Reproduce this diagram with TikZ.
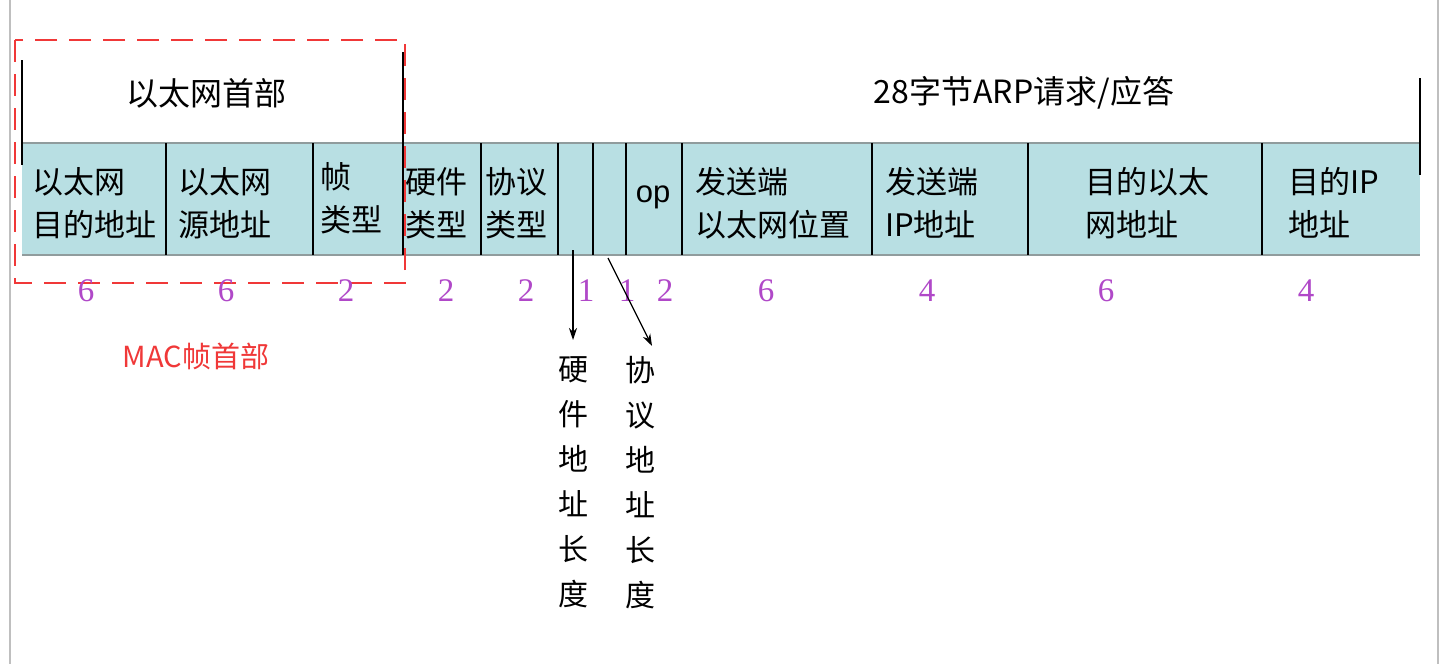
\documentclass[tikz,border=0pt]{standalone}
\usepackage{fontspec}
\setmainfont{Liberation Sans}
\newfontfamily\cjk{Noto Sans CJK SC}
\newfontfamily\numf{Liberation Serif}
\usetikzlibrary{arrows.meta}
\begin{document}
\begin{tikzpicture}[x=1pt,y=-1pt,
  cell/.style={draw=none,fill=band,anchor=north west,inner sep=0pt,minimum height=112pt},
  lab/.style={anchor=west,align=left,inner sep=0pt,font=\cjk\fontsize{31}{43}\selectfont},
  num/.style={font=\numf\fontsize{33}{33}\selectfont,text=numc,inner sep=0pt},
  vt/.style={align=center,inner sep=0pt,font=\cjk\fontsize{30}{45}\selectfont},
  arr/.style={-{Stealth[length=12pt,width=8pt]},line width=1.2pt}]
\definecolor{band}{HTML}{B8DFE3}
\definecolor{numc}{HTML}{B048C8}
\definecolor{redc}{HTML}{F03838}
\useasboundingbox (0,0) rectangle (1441,664);
\fill[white] (0,0) rectangle (1441,664);
\draw[gray!50,line width=2pt] (10,0) -- (10,664);
\draw[gray!50,line width=2pt] (1438,0) -- (1438,664);
% cells
\foreach \n/\a/\b in {c1/22/166,c2/166/313,c3/313/403,c4/403/481,c5/481/558,c6/558/593,c7/593/626,c8/626/682,c9/682/872,c10/872/1028,c11/1028/1262,c12/1262/1420}{
  \pgfmathsetmacro\w{\b-\a}
  \node[cell,minimum width=\w pt] (\n) at (\a,143) {};
}
\draw[gray!70!band,line width=1.5pt] (22,143) -- (1420,143) (22,255) -- (1420,255);
\foreach \x in {166,313,481,558,593,626,682,872,1028,1262}
  \draw[line width=1.2pt] (\x,143) -- (\x,255);
\draw[line width=1.2pt] (22,60) -- (22,165);
\draw[line width=1.2pt] (403,52) -- (403,255);
\draw[line width=1.2pt] (1420,78) -- (1420,175);
\node[font=\cjk\fontsize{32}{32}\selectfont] (t1) at (206,93) {以太网首部};
\node[font=\cjk\fontsize{32}{32}\selectfont] (t2) at (1024,93) {28字节ARP请求/应答};
\node[lab] at (32,203) {以太网\\目的地址};
\node[lab] at (178,203) {以太网\\源地址};
\node[lab] at (320,198) {帧\\类型};
\node[lab] at (405,203) {硬件\\类型};
\node[lab] at (485,203) {协议\\类型};
\node[font=\fontsize{31}{31}\selectfont] at (653,197) {op};
\node[lab] at (695,203) {发送端\\以太网位置};
\node[lab] at (885,203) {发送端\\IP地址};
\node[lab] at (1085,203) {目的以太\\网地址};
\node[lab] at (1288,203) {目的IP\\地址};
\draw[redc,line width=1.5pt,dash pattern=on 22pt off 12pt] (15,40) rectangle (405,283);
\foreach \x/\v in {86/6,226/6,346/2,446/2,526/2,586/1,627/1,665/2,766/6,927/4,1106/6,1306/4}
  \node[num] at (\x,291) {\v};
\node[text=redc,font=\cjk\fontsize{29}{29}\selectfont] (mac) at (196,356) {MAC帧首部};
\node[vt,anchor=north] (v1) at (573,356) {硬\\件\\地\\址\\长\\度};
\node[vt,anchor=north] (v2) at (640,356) {协\\议\\地\\址\\长\\度};
\coordinate (s1) at (573,250);
\coordinate (e1) at (573,340);
\coordinate (s2) at (608,258);
\coordinate (e2) at (652,346);
\draw[arr] (s1) -- (e1);
\draw[arr] (s2) -- (e2);
\end{tikzpicture}
\end{document}
